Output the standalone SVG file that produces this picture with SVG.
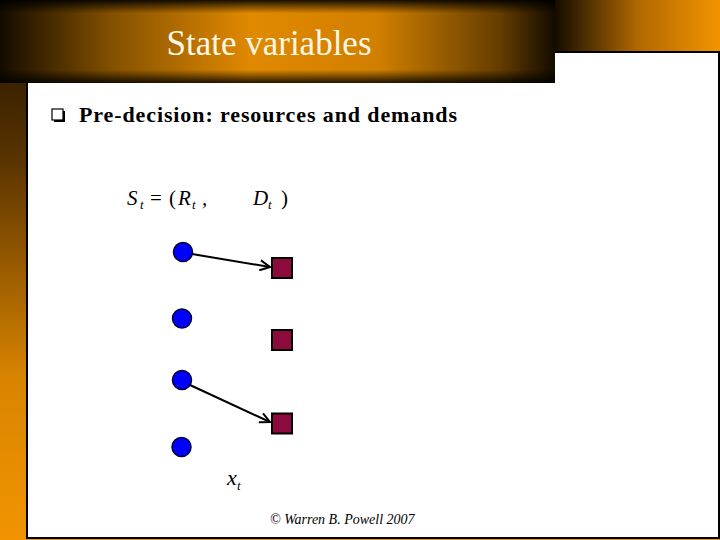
<svg xmlns="http://www.w3.org/2000/svg" width="720" height="540" viewBox="0 0 720 540">
<defs>
<linearGradient id="lstrip" x1="0" y1="0" x2="0" y2="1">
<stop offset="0" stop-color="#1a0f00"/>
<stop offset="0.3" stop-color="#5a3400"/>
<stop offset="0.7" stop-color="#d88400"/>
<stop offset="1" stop-color="#f29400"/>
</linearGradient>
<linearGradient id="tr" x1="0" y1="0" x2="1" y2="0">
<stop offset="0" stop-color="#140c00"/>
<stop offset="0.5" stop-color="#b06800"/>
<stop offset="1" stop-color="#f29400"/>
</linearGradient>
<linearGradient id="bannerH" x1="0" y1="0" x2="1" y2="0">
<stop offset="0" stop-color="#140c00"/>
<stop offset="0.2" stop-color="#8a5400"/>
<stop offset="0.45" stop-color="#ec9000"/>
<stop offset="0.68" stop-color="#dc8600"/>
<stop offset="0.9" stop-color="#6a4000"/>
<stop offset="1" stop-color="#140c00"/>
</linearGradient>
<linearGradient id="bannerV" x1="0" y1="0" x2="0" y2="1">
<stop offset="0" stop-color="#000" stop-opacity="0.9"/>
<stop offset="0.16" stop-color="#000" stop-opacity="0.05"/>
<stop offset="0.84" stop-color="#000" stop-opacity="0.05"/>
<stop offset="1" stop-color="#000" stop-opacity="0.85"/>
</linearGradient>
<marker id="arr" viewBox="0 0 12 12" refX="11" refY="6" markerWidth="12" markerHeight="12" orient="auto" markerUnits="userSpaceOnUse">
<path d="M1,1 L11,6 L1,11" fill="none" stroke="#000" stroke-width="2"/>
</marker>
<style>
.res{fill:#0000ff;stroke:#000033;stroke-width:1.5}
.dem{fill:#8c0a3c;stroke:#000;stroke-width:2}
.math{font-family:"Liberation Serif",serif;font-style:italic;fill:#000}
.edge{stroke:#000;stroke-width:2;fill:none;marker-end:url(#arr)}
</style>
</defs>
<rect x="0" y="0" width="720" height="540" fill="url(#lstrip)"/>
<rect x="555" y="0" width="165" height="52" fill="url(#tr)"/>
<rect x="27" y="52" width="692" height="486" fill="#fff" stroke="#000" stroke-width="2"/>
<rect x="0" y="0" width="555" height="83" fill="url(#bannerH)"/>
<rect x="0" y="0" width="555" height="83" fill="url(#bannerV)"/>
<text x="269" y="55" text-anchor="middle" font-family="Liberation Serif, serif" font-size="35" fill="#fff8e6">State variables</text>
<g id="bullet">
<rect x="54" y="111" width="11" height="11" fill="#000"/>
<rect x="52" y="109" width="11" height="11" fill="#fff" stroke="#000" stroke-width="1.2"/>
</g>
<text x="79" y="122" font-family="Liberation Serif, serif" font-weight="bold" font-size="22" textLength="378" lengthAdjust="spacing" fill="#000">Pre-decision: resources and demands</text>
<text class="math" font-size="21" y="205"><tspan x="127">S</tspan><tspan x="140" y="209" font-size="13">t</tspan><tspan x="150" y="205" font-style="normal">=</tspan><tspan x="169" font-style="normal">(</tspan><tspan x="178">R</tspan><tspan x="192" y="209" font-size="13">t</tspan><tspan x="202" y="205">,</tspan><tspan x="253">D</tspan><tspan x="268" y="209" font-size="13">t</tspan><tspan x="281" y="205" font-style="normal">)</tspan></text>
<g id="connectors">
<line class="edge" x1="192" y1="254" x2="270" y2="267"/>
<line class="edge" x1="190" y1="385" x2="270" y2="422"/>
</g>
<g id="r1"><circle class="res" cx="183" cy="252" r="9.5"/></g>
<g id="r2"><circle class="res" cx="182" cy="318.5" r="9.5"/></g>
<g id="r3"><circle class="res" cx="182" cy="380" r="9.5"/></g>
<g id="r4"><circle class="res" cx="181.5" cy="447" r="9.5"/></g>
<g id="d1"><rect class="dem" x="272" y="258" width="20" height="20"/></g>
<g id="d2"><rect class="dem" x="272" y="330" width="20" height="20"/></g>
<g id="d3"><rect class="dem" x="272" y="413.5" width="20" height="20"/></g>
<text class="math" font-size="22" y="485"><tspan x="227">x</tspan><tspan x="237" y="490" font-size="13">t</tspan></text>
<text class="math" x="270" y="524" font-size="14">© Warren B. Powell 2007</text>
</svg>
